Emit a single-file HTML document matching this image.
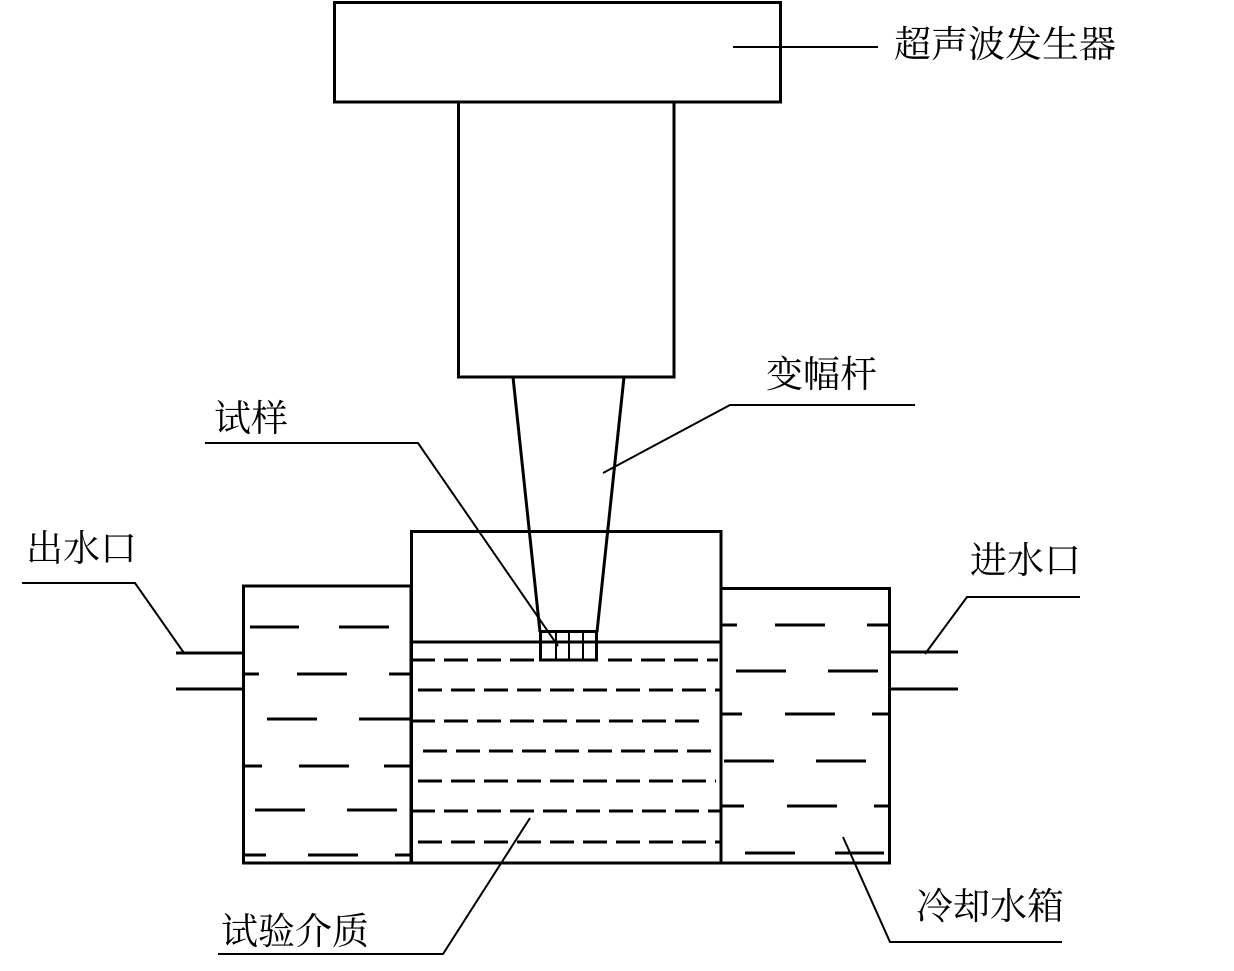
<!DOCTYPE html>
<html><head><meta charset="utf-8"><style>
html,body{margin:0;padding:0;background:#fff;}
svg{display:block;}
text{font-family:"Liberation Serif","Noto Serif CJK SC",serif;font-size:37px;fill:#000;}
</style></head><body>
<svg width="1234" height="971" viewBox="0 0 1234 971" xmlns="http://www.w3.org/2000/svg">
<g fill="none" stroke="#000" stroke-width="3">
<rect x="334.5" y="2.5" width="446" height="99.5"/>
<rect x="458.5" y="102" width="215.5" height="275"/>
<rect x="243.5" y="586" width="167.5" height="277"/>
<rect x="411.5" y="531.5" width="309.5" height="331.5"/>
<rect x="721" y="588.5" width="168.5" height="274.5"/>
<line x1="411" y1="642" x2="721" y2="642"/>
<line x1="513" y1="377" x2="540" y2="632"/>
<line x1="624" y1="377" x2="597" y2="632"/>
<rect x="540.5" y="631.5" width="56" height="28.5"/>
<line x1="556" y1="632" x2="556" y2="660" stroke-width="2"/>
<line x1="569" y1="632" x2="569" y2="660" stroke-width="2"/>
<line x1="583" y1="632" x2="583" y2="660" stroke-width="2"/>
<line x1="176" y1="653" x2="243" y2="653"/>
<line x1="176" y1="689" x2="243" y2="689"/>
<line x1="889" y1="652" x2="958" y2="652"/>
<line x1="889" y1="689" x2="958" y2="689"/>
</g>
<g stroke="#000" stroke-width="3" stroke-dasharray="24 9">
<line x1="411" y1="660" x2="540" y2="660"/>
<line x1="608" y1="660" x2="718" y2="660"/>
<line x1="418" y1="690" x2="721" y2="690"/>
<line x1="411" y1="721" x2="708" y2="721"/>
<line x1="423" y1="751" x2="712" y2="751"/>
<line x1="418" y1="781" x2="716" y2="781"/>
<line x1="411" y1="811" x2="721" y2="811"/>
<line x1="418" y1="842" x2="721" y2="842"/>
</g>
<g stroke="#000" stroke-width="3">
<line x1="250" y1="627" x2="299" y2="627"/><line x1="339" y1="627" x2="389" y2="627"/>
<line x1="243" y1="674" x2="259" y2="674"/><line x1="297" y1="674" x2="347" y2="674"/><line x1="389" y1="674" x2="411" y2="674"/>
<line x1="267" y1="719" x2="317" y2="719"/><line x1="359" y1="719" x2="411" y2="719"/>
<line x1="243" y1="766" x2="262" y2="766"/><line x1="299" y1="766" x2="349" y2="766"/><line x1="384" y1="766" x2="411" y2="766"/>
<line x1="255" y1="810" x2="305" y2="810"/><line x1="347" y1="810" x2="397" y2="810"/>
<line x1="243" y1="855" x2="266" y2="855"/><line x1="308" y1="855" x2="358" y2="855"/><line x1="395" y1="855" x2="411" y2="855"/>
<line x1="721" y1="625" x2="737" y2="625"/><line x1="775" y1="625" x2="825" y2="625"/><line x1="867" y1="625" x2="889" y2="625"/>
<line x1="736" y1="671" x2="786" y2="671"/><line x1="828" y1="671" x2="878" y2="671"/>
<line x1="721" y1="714" x2="742" y2="714"/><line x1="785" y1="714" x2="835" y2="714"/><line x1="872" y1="714" x2="889" y2="714"/>
<line x1="724" y1="761" x2="774" y2="761"/><line x1="816" y1="761" x2="866" y2="761"/>
<line x1="721" y1="806" x2="744" y2="806"/><line x1="787" y1="806" x2="837" y2="806"/><line x1="874" y1="806" x2="889" y2="806"/>
<line x1="745" y1="853" x2="795" y2="853"/><line x1="835" y1="853" x2="884" y2="853"/>
</g>
<g fill="none" stroke="#000" stroke-width="2">
<line x1="733" y1="47" x2="878" y2="47"/>
<polyline points="603,473 730,405 915,405"/>
<polyline points="205,443 418,443 558,646"/>
<polyline points="22,583 135,583 184,653"/>
<polyline points="925,654 967,597 1080,597"/>
<polyline points="218,954 443,954 530,818"/>
<polyline points="843,837 890,942 1062,942"/>
</g>
<text x="894" y="57">超声波发生器</text>
<text x="766" y="387">变幅杆</text>
<text x="214" y="431">试样</text>
<text x="26" y="561">出水口</text>
<text x="970" y="573">进水口</text>
<text x="221" y="944">试验介质</text>
<text x="916" y="919">冷却水箱</text>
</svg>
</body></html>
